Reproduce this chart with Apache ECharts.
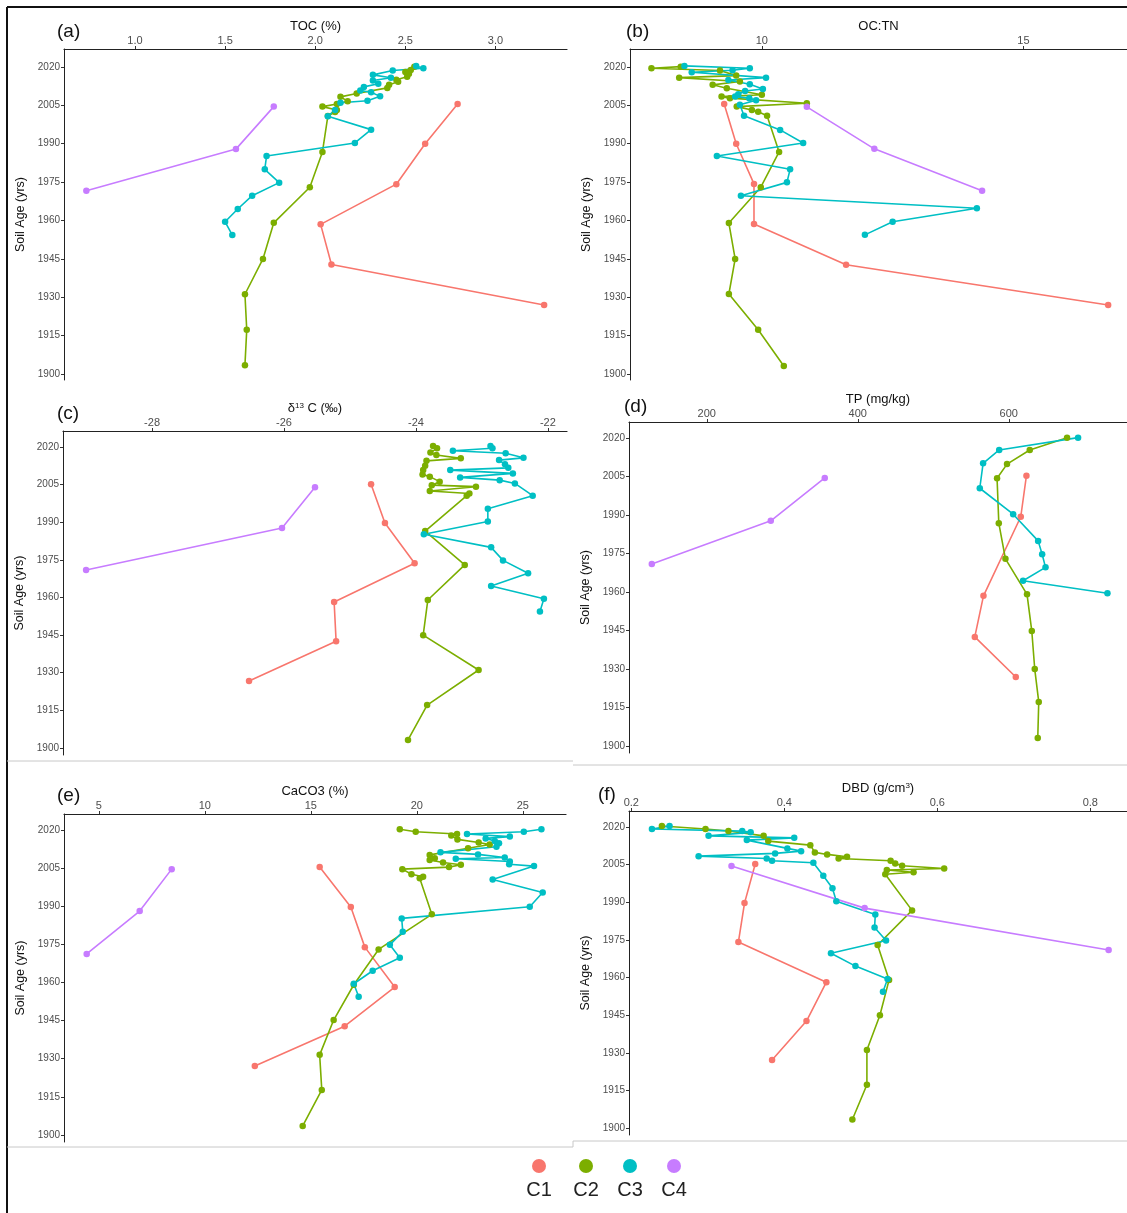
<!DOCTYPE html>
<html><head><meta charset="utf-8">
<script src="https://cdn.jsdelivr.net/npm/echarts@6/dist/echarts.min.js"></script>
<style>html,body{margin:0;padding:0;background:#fff;} #c{width:1127px;height:1213px;}</style>
</head><body><div id="c"></div>
<script>
const seriesNames = ['C1','C2','C3','C4'];
const seriesColors = ['#F8766D','#7CAE00','#00BFC4','#C77CFF'];
const yearTicks = [1900,1915,1930,1945,1960,1975,1990,2005,2020];

// (a) TOC (%)  [value, year]
const tocTicks = [1.0,1.5,2.0,2.5,3.0];
const tocC1 = [[2.79,2005.5],[2.61,1990],[2.45,1974.2],[2.03,1958.5],[2.09,1942.8],[3.27,1927]];
const tocC2 = [[2.55,2020.1],[2.53,2018.8],[2.50,2018.0],[2.52,2017.3],[2.51,2016.2],[2.45,2015],[2.46,2014.2],[2.41,2013],[2.40,2011.8],[2.23,2009.6],[2.14,2008.3],[2.18,2006.6],[2.12,2005.5],[2.04,2004.5],[2.12,2003.2],[2.11,2002.4],[2.07,2000.8],[2.04,1986.8],[1.97,1973],[1.77,1959.1],[1.71,1945],[1.61,1931.2],[1.62,1917.3],[1.61,1903.5]];
const tocC3 = [[2.56,2020.4],[2.60,2019.5],[2.43,2018.6],[2.32,2016.9],[2.42,2015.8],[2.32,2014.7],[2.35,2013.4],[2.27,2012.2],[2.25,2010.8],[2.31,2010.1],[2.36,2008.5],[2.29,2006.8],[2.14,2006],[2.11,2003.2],[2.07,2000.7],[2.31,1995.5],[2.22,1990.3],[1.73,1985.2],[1.72,1980],[1.80,1974.8],[1.65,1969.7],[1.57,1964.5],[1.50,1959.5],[1.54,1954.3]];
const tocC4 = [[1.77,2004.5],[1.56,1987.9],[0.73,1971.6]];

// (b) OC:TN
const ocnTicks = [10,15];
const ocnC1 = [[9.28,2005.5],[9.51,1990],[9.85,1974.3],[9.85,1958.6],[11.61,1942.7],[16.62,1927]];
const ocnC2 = [[8.45,2020.1],[7.89,2019.5],[9.2,2018.6],[9.51,2016.6],[8.42,2015.8],[9.58,2014.3],[9.06,2013],[9.33,2011.7],[10.0,2009.1],[9.23,2008.4],[9.39,2007.8],[10.86,2005.8],[9.52,2004.5],[9.81,2003.2],[9.93,2002.5],[10.1,2000.9],[10.33,1986.8],[9.98,1973],[9.37,1959],[9.49,1945],[9.37,1931.3],[9.93,1917.3],[10.42,1903.2]];
const ocnC3 = [[8.52,2020.4],[9.77,2019.5],[9.44,2018.7],[8.66,2017.9],[10.08,2015.8],[9.36,2014.9],[9.77,2013.2],[10.02,2011.4],[9.68,2010.6],[9.55,2009.3],[9.49,2008.4],[9.76,2007.8],[9.89,2007],[9.58,2005.2],[9.66,2000.9],[10.35,1995.4],[10.79,1990.3],[9.14,1985.2],[10.54,1980],[10.48,1974.9],[9.60,1969.7],[14.11,1964.8],[12.50,1959.5],[11.97,1954.4]];
const ocnC4 = [[10.86,2004.4],[12.15,1988],[14.21,1971.6]];

// (c) d13C (permil)
const d13Ticks = [-28,-26,-24,-22];
const d13C1 = [[-24.68,2005.2],[-24.47,1989.7],[-24.02,1973.7],[-25.24,1958.2],[-25.21,1942.6],[-26.53,1926.7]];
const d13C2 = [[-23.74,2020.4],[-23.68,2019.5],[-23.78,2017.8],[-23.69,2016.8],[-23.32,2015.5],[-23.84,2014.5],[-23.86,2012.5],[-23.89,2010.8],[-23.9,2009.1],[-23.79,2008.2],[-23.64,2006.2],[-23.76,2004.8],[-23.09,2004.2],[-23.79,2002.5],[-23.19,2001.5],[-23.23,2000.6],[-23.86,1986.5],[-23.26,1973],[-23.82,1959],[-23.89,1945],[-23.05,1931.1],[-23.83,1917.1],[-24.12,1903.2]];
const d13C3 = [[-22.87,2020.4],[-22.84,2019.5],[-23.44,2018.5],[-22.64,2017.5],[-22.37,2015.7],[-22.74,2014.8],[-22.65,2013.1],[-22.6,2011.7],[-23.48,2010.8],[-22.53,2009.5],[-23.33,2007.9],[-22.73,2006.8],[-22.5,2005.5],[-22.23,2000.6],[-22.91,1995.4],[-22.91,1990.3],[-23.88,1985.2],[-22.86,1980],[-22.68,1974.8],[-22.30,1969.7],[-22.86,1964.6],[-22.06,1959.5],[-22.12,1954.4]];
const d13C4 = [[-25.53,2004],[-26.03,1987.7],[-29.0,1971]];

// (d) TP (mg/kg)
const tpTicks = [200,400,600];
const tpC1 = [[623.4,2005.3],[615.9,1989.3],[566.5,1958.5],[555,1942.5],[609.3,1926.9]];
const tpC2 = [[677.2,2020.1],[627.8,2015.3],[597.7,2009.8],[584.5,2004.3],[586.8,1986.8],[595.6,1972.9],[624.2,1959.1],[630.5,1944.8],[634.4,1930],[639.7,1917.2],[638.4,1903.1]];
const tpC3 = [[691.8,2020.1],[587.3,2015.3],[566,2010.1],[561.6,2000.4],[605.8,1990.3],[638.9,1979.9],[644.2,1974.7],[648.7,1969.6],[618.9,1964.4],[730.7,1959.5]];
const tpC4 = [[356.3,2004.4],[284.8,1987.7],[127.2,1970.9]];

// (e) CaCO3 (%)
const caTicks = [5,10,15,20,25];
const caC1 = [[15.42,2005.4],[16.89,1989.7],[17.55,1973.9],[18.96,1958.2],[16.6,1942.8],[12.36,1927.1]];
const caC2 = [[19.2,2020.3],[19.95,2019.3],[21.9,2018.4],[21.63,2017.8],[21.92,2016.3],[22.92,2015.1],[23.44,2014.3],[22.42,2012.8],[20.61,2010.2],[20.85,2008.9],[20.61,2008.2],[21.24,2007.2],[22.08,2006.3],[21.52,2005.4],[19.32,2004.6],[19.75,2002.6],[20.3,2001.6],[20.14,2001.0],[20.71,1986.8],[18.2,1973],[17.03,1959.1],[16.08,1945.2],[15.42,1931.5],[15.52,1917.7],[14.62,1903.5]];
const caC3 = [[25.88,2020.3],[25.05,2019.3],[22.37,2018.4],[24.39,2017.4],[23.25,2016.7],[23.68,2015.7],[23.88,2014.8],[23.76,2013.4],[21.12,2011.2],[22.89,2010.4],[24.15,2009.2],[21.84,2008.7],[24.39,2007.6],[24.36,2006.5],[25.53,2005.8],[23.58,2000.5],[25.94,1995.4],[25.33,1989.8],[19.29,1985.2],[19.34,1980],[18.73,1974.8],[19.2,1969.7],[17.92,1964.6],[17.03,1959.5],[17.26,1954.4]];
const caC4 = [[8.44,2004.6],[6.93,1988.1],[4.43,1971.2]];

// (f) DBD (g/cm3)
const dbdTicks = [0.2,0.4,0.6,0.8];
const dbdC1 = [[0.362,2005.3],[0.348,1989.7],[0.34,1974.2],[0.455,1958.2],[0.429,1942.7],[0.384,1927.2]];
const dbdC2 = [[0.24,2020.4],[0.297,2019.2],[0.327,2018.4],[0.373,2016.5],[0.379,2014.4],[0.434,2012.8],[0.44,2009.9],[0.456,2009.1],[0.482,2008.2],[0.471,2007.5],[0.539,2006.6],[0.545,2005.5],[0.554,2004.6],[0.609,2003.5],[0.534,2002.9],[0.569,2002],[0.532,2001.2],[0.567,1986.8],[0.522,1973],[0.537,1959.1],[0.525,1945],[0.508,1931.2],[0.508,1917.3],[0.489,1903.5]];
const dbdC3 = [[0.25,2020.4],[0.227,2019.2],[0.345,2018.4],[0.356,2017.9],[0.301,2016.5],[0.413,2015.7],[0.351,2014.8],[0.404,2011.5],[0.422,2010.4],[0.388,2009.5],[0.288,2008.4],[0.377,2007.5],[0.384,2006.6],[0.438,2005.8],[0.451,2000.6],[0.463,1995.6],[0.468,1990.4],[0.519,1985.2],[0.518,1980],[0.533,1974.8],[0.461,1969.7],[0.493,1964.6],[0.535,1959.5],[0.529,1954.4]];
const dbdC4 = [[0.331,2004.5],[0.505,1987.7],[0.824,1971]];

const FONT = "'Liberation Sans', Arial, Helvetica, sans-serif";
const panels = [
  {tag:'(a)', tagPos:[57,32], data:[tocC1,tocC2,tocC3,tocC4], grid:{left:64,top:49,width:503,height:331},
   x:{min:0.606,max:3.397,ticks:tocTicks,fmt:v=>v.toFixed(1)}, y:{min:1897.7,max:2027.0}, name:'TOC (%)'},
  {tag:'(b)', tagPos:[626,32], data:[ocnC1,ocnC2,ocnC3,ocnC4], grid:{left:630,top:49,width:497,height:331},
   x:{min:7.48,max:16.98,ticks:ocnTicks,fmt:v=>String(v)}, y:{min:1897.7,max:2027.0}, name:'OC:TN'},
  {tag:'(c)', tagPos:[57,414], data:[d13C1,d13C2,d13C3,d13C4], grid:{left:63,top:431,width:504,height:324},
   x:{min:-29.35,max:-21.71,ticks:d13Ticks,fmt:v=>String(v)}, y:{min:1897.2,max:2026.4}, name:'{n|δ}{s|13}{n| C (‰)}'},
  {tag:'(d)', tagPos:[624,407], data:[tpC1,tpC2,tpC3,tpC4], grid:{left:629,top:422,width:498,height:331},
   x:{min:97,max:756.6,ticks:tpTicks,fmt:v=>String(v)}, y:{min:1897.3,max:2026.2}, name:'TP (mg/kg)'},
  {tag:'(e)', tagPos:[57,796], data:[caC1,caC2,caC3,caC4], grid:{left:64,top:814,width:502,height:328},
   x:{min:3.36,max:27.04,ticks:caTicks,fmt:v=>String(v)}, y:{min:1897.2,max:2026.3}, name:'CaCO3 (%)'},
  {tag:'(f)', tagPos:[598,795], data:[dbdC1,dbdC2,dbdC3,dbdC4], grid:{left:629,top:811,width:498,height:324},
   x:{min:0.197,max:0.848,ticks:dbdTicks,fmt:v=>v.toFixed(1)}, y:{min:1897.3,max:2026.4}, name:'{n|DBD (g/cm}{s|3}{n|)}'}
];

const grids = [], xAxes = [], yAxes = [], series = [], graphics = [];
panels.forEach((p, i) => {
  grids.push(Object.assign({containLabel:false}, p.grid));
  xAxes.push({
    gridIndex:i, type:'value', position:'top', min:p.x.min, max:p.x.max,
    axisLine:{show:true, onZero:false, lineStyle:{color:'#222', width:1.2}},
    axisTick:{show:true, customValues:p.x.ticks, length:3, lineStyle:{color:'#333'}},
    axisLabel:{customValues:p.x.ticks, formatter:p.x.fmt, color:'#4D4D4D', fontSize:11, fontFamily:FONT, margin:3},
    splitLine:{show:false},
    name:p.name, nameLocation:'middle', nameGap:16,
    nameTextStyle:{color:'#111', fontSize:13, fontFamily:FONT,
      rich:{n:{fontSize:13, fontFamily:FONT, color:'#111', verticalAlign:'bottom'}, s:{fontSize:8, fontFamily:FONT, color:'#111', verticalAlign:'top'}}}
  });
  yAxes.push({
    gridIndex:i, type:'value', min:p.y.min, max:p.y.max,
    axisLine:{show:true, onZero:false, lineStyle:{color:'#222', width:1}},
    axisTick:{show:true, customValues:yearTicks, length:3, lineStyle:{color:'#333'}},
    axisLabel:{customValues:yearTicks, formatter:v=>String(v), color:'#4D4D4D', fontSize:10, fontFamily:FONT, margin:4},
    splitLine:{show:false},
    name:'Soil Age (yrs)', nameLocation:'middle', nameGap:37, nameRotate:90,
    nameTextStyle:{color:'#111', fontSize:12.5, fontFamily:FONT}
  });
  p.data.forEach((d, k) => {
    series.push({
      name:seriesNames[k], type:'line', xAxisIndex:i, yAxisIndex:i, data:d,
      symbol:'circle', symbolSize:6.5, showSymbol:true,
      itemStyle:{color:seriesColors[k]}, lineStyle:{color:seriesColors[k], width:1.6},
      emphasis:{disabled:true}, animation:false
    });
  });
  graphics.push({type:'text', x:p.tagPos[0], y:p.tagPos[1],
    style:{text:p.tag, font:'19px ' + FONT, fill:'#111', textVerticalAlign:'middle'}});
});

// figure frames
const frameLines = [
  {pts:[7,7,1127,7], c:'#111', w:2},
  {pts:[7,7,7,1213], c:'#111', w:2},
  {pts:[7,761,573,761], c:'#c8c8c8', w:1},
  {pts:[573,765,1127,765], c:'#c8c8c8', w:1},
  {pts:[7,1147,573,1147], c:'#c8c8c8', w:1},
  {pts:[573,1141,1127,1141], c:'#c8c8c8', w:1},
  {pts:[573,1141,573,1147], c:'#c8c8c8', w:1}
];
frameLines.forEach(f => graphics.push({type:'line', shape:{x1:f.pts[0],y1:f.pts[1],x2:f.pts[2],y2:f.pts[3]}, style:{stroke:f.c, lineWidth:f.w}, silent:true}));

// legend (keys above labels)
const legendX = [539,586,630,674];
seriesNames.forEach((n, k) => {
  graphics.push({type:'circle', shape:{cx:legendX[k], cy:1166, r:7}, style:{fill:seriesColors[k]}});
  graphics.push({type:'text', x:legendX[k], y:1190, style:{text:n, font:'20px ' + FONT, fill:'#222', textAlign:'center', textVerticalAlign:'middle'}});
});

const chart = echarts.init(document.getElementById('c'));
chart.setOption({
  backgroundColor:'#fff', animation:false,
  grid:grids, xAxis:xAxes, yAxis:yAxes, series:series, graphic:graphics
});
</script>
</body></html>
